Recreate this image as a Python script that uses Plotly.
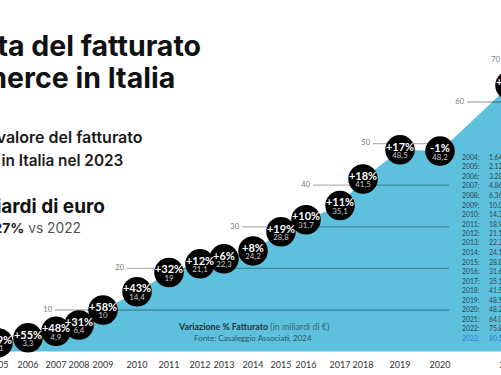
import plotly.graph_objects as go

# ---------------- data ----------------
years = [2004, 2005, 2006, 2007, 2008, 2009, 2010, 2011, 2012, 2013,
         2014, 2015, 2016, 2017, 2018, 2019, 2020, 2021, 2022, 2023]
fatturato = [1.645, 2.12, 3.3, 4.9, 6.4, 10.0, 14.4, 19.0, 21.1, 22.3,
             24.2, 28.8, 31.7, 35.1, 41.5, 48.5, 48.2, 64.0, 75.8, 80.5]
variazione = ["", "+29%", "+55%", "+48%", "+31%", "+58%", "+43%", "+32%", "+12%", "+6%",
              "+8%", "+19%", "+10%", "+11%", "+18%", "+17%", "-1%", "+33%", "+18%", "+6%"]
valore_label = ["", "2,1", "3,3", "4,9", "6,4", "10", "14,4", "19", "21,1", "22,3",
                "24,2", "28,8", "31,7", "35,1", "41,5", "48,5", "48,2", "64", "75,8", "80,5"]
tabella_valori = ["1.645", "2.123", "3.286", "4.866", "6.361", "10.03", "14.35", "18.92",
                  "21.15", "22.34", "24.18", "28.84", "31.62", "35.13", "41.51", "48.53",
                  "48.25", "64.02", "75.89", "80.54"]
grid_values = [10, 20, 30, 40, 50, 60, 70]

# ---------------- layout helpers (positions, not data) ----------------
W, H = 501, 375
x_pos = [-30, -2, 28, 56, 79, 103, 137, 169, 200, 224,
         253, 281, 306, 340, 363, 400, 440, 510, 550, 590]
grid_start = [55, 127, 242, 313, 373, 467, 503]
grid_end = [449, 449, 449, 449, 449, 520, 520]
Y0_PX = 351.6
PX_PER_UNIT = 4.16
y_top = Y0_PX / PX_PER_UNIT
y_bot = -(H - Y0_PX) / PX_PER_UNIT


def px2y(py):
    return (Y0_PX - py) / PX_PER_UNIT


BLUE = "#5dc1dd"
fig = go.Figure()

# area
fig.add_trace(go.Scatter(x=x_pos, y=fatturato, mode="lines", fill="tozeroy",
                         fillcolor=BLUE, line=dict(width=0, color=BLUE),
                         hoverinfo="skip", showlegend=False))

# grid lines
gx, gy = [], []
for v, s, e in zip(grid_values, grid_start, grid_end):
    gx += [s, e, None]
    gy += [v, v, None]
fig.add_trace(go.Scatter(x=gx, y=gy, mode="lines",
                         line=dict(color="rgba(0,0,0,0.3)", width=1.3),
                         hoverinfo="skip", showlegend=False))
# grid labels
fig.add_trace(go.Scatter(x=[s - 3 for s in grid_start], y=grid_values, mode="text",
                         text=[str(v) for v in grid_values], textposition="middle left",
                         textfont=dict(family="Lato", size=7.5, color="#777777"),
                         hoverinfo="skip", showlegend=False))

# bubbles (2004 has no bubble)
bx = x_pos[1:]
by = fatturato[1:]
fig.add_trace(go.Scatter(x=bx, y=by, mode="markers",
                         marker=dict(size=29.5, color="#000000", line=dict(width=0)),
                         hoverinfo="skip", showlegend=False))
fig.add_trace(go.Scatter(x=bx, y=[v + 2 / PX_PER_UNIT for v in by], mode="text",
                         text=["<b>%s</b>" % t for t in variazione[1:]],
                         textposition="middle center",
                         textfont=dict(family="Lato", size=11, color="#ffffff"),
                         hoverinfo="skip", showlegend=False))
fig.add_trace(go.Scatter(x=bx, y=[v - 6.5 / PX_PER_UNIT for v in by], mode="text",
                         text=valore_label[1:], textposition="middle center",
                         textfont=dict(family="Lato", size=7.8, color="#cfcfcf"),
                         hoverinfo="skip", showlegend=False))

# year labels
fig.add_trace(go.Scatter(x=x_pos, y=[px2y(366)] * len(years), mode="text",
                         text=[str(y) for y in years], textposition="middle center",
                         textfont=dict(family="Lato", size=9, color="#333333"),
                         hoverinfo="skip", showlegend=False))

annotations = []


def ann(text, px, py, size, color, xanchor="right", family="Inter", weight=None):
    f = dict(family=family, size=size, color=color)
    if weight:
        f["weight"] = weight
    annotations.append(dict(text=text, xref="paper", yref="paper", x=px / W, y=1 - py / H,
                            xanchor=xanchor, yanchor="middle", showarrow=False, font=f))


# headline block (cropped on the left in the reference)
ann("Crescita del fatturato", 203, 45, 28.5, "#111111", weight=700)
ann("dell'e-commerce in Italia", 177, 78, 28.5, "#111111", weight=700)
ann("Il valore del fatturato", 145, 137, 16, "#1a1a1a", weight=600)
ann("e-commerce in Italia nel 2023", 125, 160, 15.3, "#1a1a1a", weight=600)
ann("80,5 miliardi di euro", 107, 206, 19, "#111111", weight=700)
ann("<b>+6,27%</b> <span style='color:#555555'>vs 2022</span>", 83, 228, 13.8, "#1a1a1a")

# caption inside the area
ann("<b>Variazione % Fatturato</b> <span style='color:#3b6676'>(in miliardi di €)</span>",
    253, 326, 8.9, "#1c3440", xanchor="center", family="Lato")
ann("Fonte: Casaleggio Associati, 2024", 253, 338, 8, "#2c5261", xanchor="center",
    family="Lato")

# table on the right
for i, (yr, val) in enumerate(zip(years, tabella_valori)):
    py = 157 + 9.5 * i
    col = "#2b7fd6" if yr == 2023 else "#2d4550"
    ann("%d:" % yr, 460, py, 6.8, col, xanchor="left", family="Lato")
    ann(val, 487, py, 6.8, col, xanchor="left", family="Lato")

fig.update_layout(
    width=W, height=H,
    margin=dict(l=0, r=0, t=0, b=0),
    paper_bgcolor="white", plot_bgcolor="white",
    xaxis=dict(range=[0, W], visible=False, fixedrange=True),
    yaxis=dict(range=[y_bot, y_top], visible=False, fixedrange=True),
    annotations=annotations,
    showlegend=False,
    hovermode=False,
)

fig.write_html("out.html", config={"displayModeBar": False},
               post_script="document.body.style.margin='0';")
